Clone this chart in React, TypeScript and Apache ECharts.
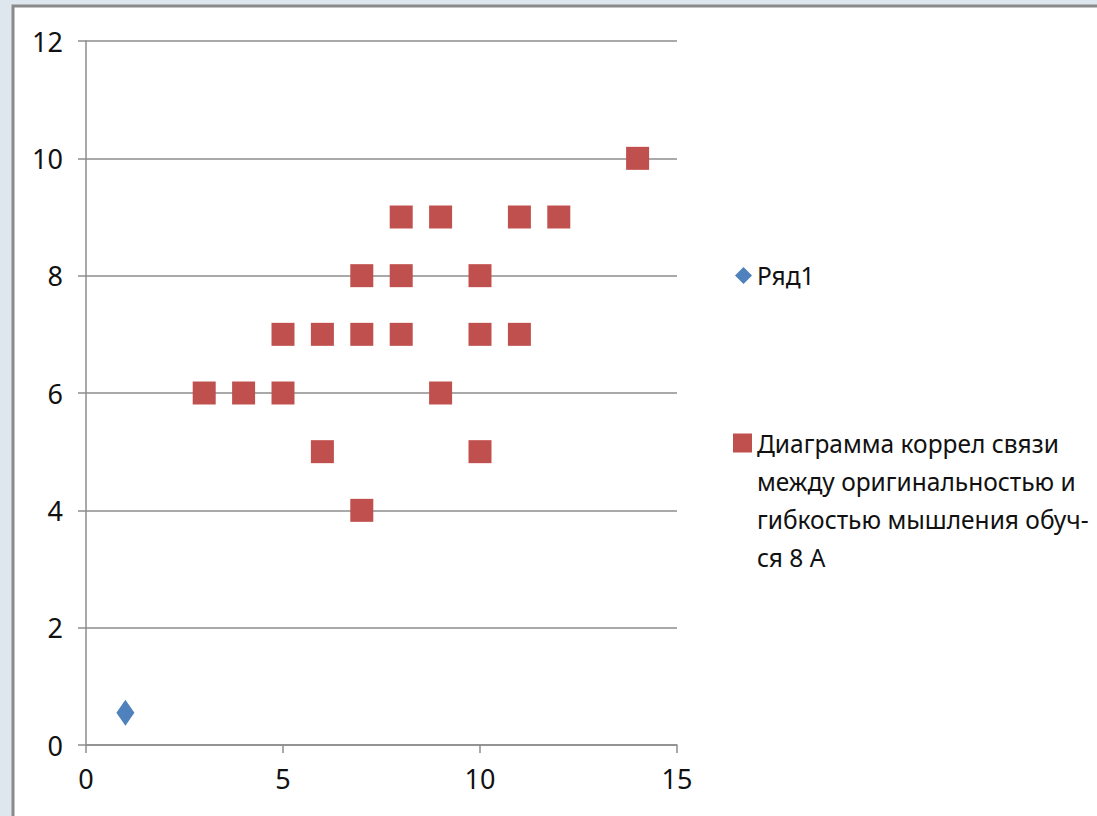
import React, { useEffect, useRef } from "react";
import * as echarts from "echarts";

const series1Name = "Ряд1";
const series1Points: [number, number][] = [[1, 0.55]];

const series2Name =
  "Диаграмма коррел связи между оригинальностью и гибкостью мышления обуч-ся 8 А";
const series2Lines = [
  "Диаграмма коррел связи",
  "между оригинальностью и",
  "гибкостью мышления обуч-",
  "ся 8 А",
];
const series2X = [3, 4, 5, 5, 6, 6, 7, 7, 7, 8, 8, 8, 9, 9, 10, 10, 10, 11, 11, 12, 14];
const series2Y = [6, 6, 6, 7, 7, 5, 8, 7, 4, 9, 8, 7, 9, 6, 8, 7, 5, 9, 7, 9, 10];

const xMin = 0, xMax = 15, xStep = 5;
const yMin = 0, yMax = 12, yStep = 2;

const FONT = "'Noto Sans', sans-serif";
const LH = 38;

export default function App() {
  const ref = useRef<HTMLDivElement>(null);
  useEffect(() => {
    if (!ref.current) return;
    const chart = echarts.init(ref.current, undefined, { renderer: "svg" });
    const pts2 = series2X.map((x, i) => [x, series2Y[i]]);
    const blockH = LH * series2Lines.length;
    // square icon aligned to the first text line, inside a box as tall as the text block
    const sqTop = LH / 2 - 9.5;
    const legendIcon2 = `path://M0,0 M0,${sqTop} L19,${sqTop} L19,${sqTop + 19} L0,${sqTop + 19} Z M0,${blockH}`;
    chart.setOption({
      animation: false,
      backgroundColor: "#dde7ed",
      graphic: [
        {
          type: "rect",
          z: -10,
          shape: { x: 13, y: 6, width: 1200, height: 1000 },
          style: { fill: "#ffffff", stroke: "#8a8a8a", lineWidth: 3 },
        },
      ],
      grid: { left: 86, right: 420, top: 41, bottom: 71, containLabel: false },
      xAxis: {
        type: "value",
        min: xMin,
        max: xMax,
        interval: xStep,
        splitLine: { show: false },
        axisLine: { show: true, onZero: false, lineStyle: { color: "#8c8c8c", width: 1.5 } },
        axisTick: { show: true, inside: false, length: 8, lineStyle: { color: "#8c8c8c", width: 1.5 } },
        axisLabel: { margin: 20, color: "#111", fontSize: 27, fontFamily: FONT },
      },
      yAxis: {
        type: "value",
        min: yMin,
        max: yMax,
        interval: yStep,
        splitLine: { show: true, lineStyle: { color: "#8c8c8c", width: 1.5 } },
        axisLine: { show: true, onZero: false, lineStyle: { color: "#8c8c8c", width: 1.5 } },
        axisTick: { show: true, inside: false, length: 8, lineStyle: { color: "#8c8c8c", width: 1.5 } },
        axisLabel: { margin: 23, color: "#111", fontSize: 27, fontFamily: FONT },
      },
      legend: [
        {
          data: [{ name: series1Name, icon: "diamond" }],
          orient: "vertical",
          left: 735,
          top: 263,
          padding: 0,
          itemWidth: 17,
          itemHeight: 17,
          textStyle: { fontSize: 24.5, fontFamily: FONT, color: "#111" },
        },
        {
          data: [{ name: series2Name, icon: legendIcon2 }],
          orient: "vertical",
          left: 733,
          top: 424,
          padding: 0,
          itemWidth: 19,
          itemHeight: blockH,
          formatter: () => series2Lines.join("\n"),
          textStyle: {
            fontSize: 24.5,
            fontFamily: FONT,
            color: "#111",
            lineHeight: LH,
          },
        },
      ],
      series: [
        {
          name: series1Name,
          type: "scatter",
          symbol: "diamond",
          symbolSize: [18, 26],
          itemStyle: { color: "#4f81bd", opacity: 1 },
          data: series1Points,
        },
        {
          name: series2Name,
          type: "scatter",
          symbol: "rect",
          symbolSize: 23,
          itemStyle: { color: "#c0504d", opacity: 1 },
          data: pts2,
        },
      ],
    });
    return () => chart.dispose();
  }, []);
  return (
    <div
      ref={ref}
      style={{ position: "fixed", left: 0, top: 0, width: 1097, height: 816 }}
    />
  );
}
